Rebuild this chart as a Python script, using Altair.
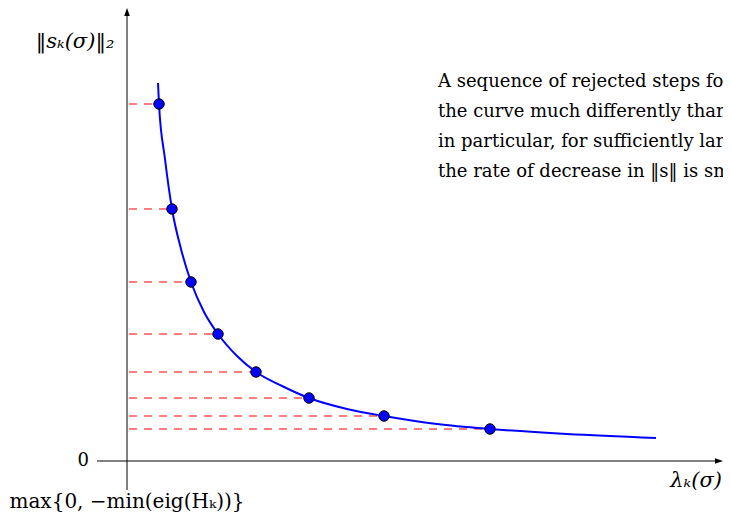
import altair as alt
import pandas as pd

# rejected-step points (lambda_k(sigma), ||s_k(sigma)||_2), arbitrary units
pt_lambda = [0.32, 0.45, 0.64, 0.91, 1.29, 1.82, 2.57, 3.63]
pt_s = [3.57, 2.52, 1.79, 1.27, 0.89, 0.63, 0.45, 0.32]

# samples
curve_lambda = [0.31, 0.32, 0.38, 0.45, 0.54, 0.64, 0.77, 0.91, 1.10, 1.29,
                1.55, 1.82, 2.20, 2.57, 3.10, 3.63, 4.40, 5.29]
curve_s = [3.78, 3.57, 3.02, 2.52, 2.12, 1.79, 1.49, 1.27, 1.05, 0.89,
           0.75, 0.63, 0.52, 0.45, 0.37, 0.32, 0.27, 0.23]

# axis extents
x_axis_lambda = [-0.30, 5.92]
y_axis_s = [-0.29, 4.49]

note_lines = [
    "A sequence of rejected steps follows",
    "the curve much differently than",
    "in particular, for sufficiently large",
    "the rate of decrease in \u2016s\u2016 is small",
]
note_s = [3.79, 3.49, 3.19, 2.89]

xs = alt.Scale(domain=[-1.19, 5.96], nice=False, zero=False)
ys = alt.Scale(domain=[-0.52, 4.53], nice=False, zero=False)
X = lambda f: alt.X(f, type="quantitative", scale=xs, axis=None)
Y = lambda f: alt.Y(f, type="quantitative", scale=ys, axis=None)

pts = pd.DataFrame({"lam": pt_lambda, "s": pt_s, "zero": [0.02] * len(pt_s)})
curve = pd.DataFrame({"lam": curve_lambda, "s": curve_s, "o": list(range(len(curve_s)))})

serif = "DejaVu Serif"
fs = 18

dashes = alt.Chart(pts).mark_rule(color="#ff0000", strokeWidth=1.2, strokeDash=[8, 7]).encode(
    x=X("zero"), x2="lam", y=Y("s"))

xaxis = alt.Chart(pd.DataFrame({"a": [x_axis_lambda[0]], "b": [x_axis_lambda[1]], "s": [0.0]})).mark_rule(
    color="black", strokeWidth=1).encode(x=X("a"), x2="b", y=Y("s"))
yaxis = alt.Chart(pd.DataFrame({"a": [y_axis_s[0]], "b": [y_axis_s[1]], "l": [0.0]})).mark_rule(
    color="black", strokeWidth=1).encode(x=X("l"), y=Y("a"), y2="b")

xarrow = alt.Chart(pd.DataFrame({"lam": [x_axis_lambda[1]], "s": [0.0]})).mark_point(
    shape="M-1,-0.7L1,0L-1,0.7Z", filled=True, color="black", opacity=1, size=64, strokeWidth=0
).encode(x=X("lam"), y=Y("s"))
yarrow = alt.Chart(pd.DataFrame({"lam": [0.0], "s": [y_axis_s[1]]})).mark_point(
    shape="M-0.7,1L0,-1L0.7,1Z", filled=True, color="black", opacity=1, size=64, strokeWidth=0
).encode(x=X("lam"), y=Y("s"))

line = alt.Chart(curve).mark_line(color="#0000ff", strokeWidth=2, interpolate="monotone").encode(
    x=X("lam"), y=Y("s"), order="o")

dots = alt.Chart(pts).mark_point(filled=True, fill="#0000ff", stroke="black", strokeWidth=1,
                                 opacity=1, size=110, shape="circle").encode(x=X("lam"), y=Y("s"))

lab_c = alt.Chart(pd.DataFrame({"lam": [-0.52], "s": [4.19], "t": ["\u2016s\u2096(\u03c3)\u2016\u2082"]})).mark_text(
    font=serif, fontSize=21, fontStyle="italic", align="center", baseline="middle").encode(
    x=X("lam"), y=Y("s"), text="t")
lab_0 = alt.Chart(pd.DataFrame({"lam": [-0.38], "s": [0.0], "t": ["0"]})).mark_text(
    font=serif, fontSize=fs, align="right", baseline="middle").encode(x=X("lam"), y=Y("s"), text="t")
lab_l = alt.Chart(pd.DataFrame({"lam": [5.95], "s": [-0.20], "t": ["\u03bb\u2096(\u03c3)"]})).mark_text(
    font=serif, fontSize=21, fontStyle="italic", align="right", baseline="middle").encode(
    x=X("lam"), y=Y("s"), text="t")
lab_o = alt.Chart(pd.DataFrame({"lam": [0.0], "s": [-0.465], "t": ["max{0, \u2212min(eig(H\u2096))}"]})).mark_text(
    font=serif, fontSize=20, align="center", baseline="alphabetic").encode(x=X("lam"), y=Y("s"), text="t")

note = alt.Chart(pd.DataFrame({"lam": [3.11] * 4, "s": note_s, "t": note_lines})).mark_text(
    font=serif, fontSize=fs, align="left", baseline="middle").encode(x=X("lam"), y=Y("s"), text="t")

chart = alt.layer(dashes, xaxis, yaxis, xarrow, yarrow, line, dots, lab_c, lab_0, lab_l, lab_o, note).properties(
    width=715, height=505, padding=0, autosize=alt.AutoSizeParams(type="none")
).configure_view(stroke=None)

chart.save("out.html", embed_options={"renderer": "svg", "actions": False})
